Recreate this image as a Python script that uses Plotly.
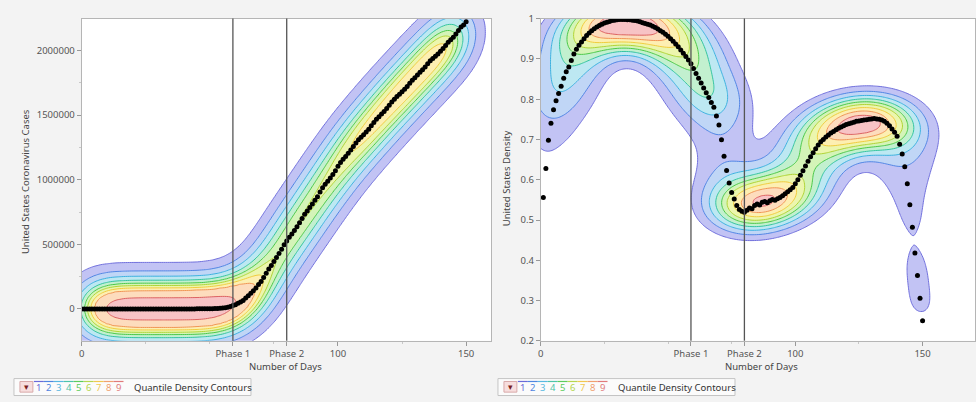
import numpy as np
import plotly.graph_objects as go

# ---------------- data ----------------
days_cases = list(range(0, 151))
us_cases = [
    1, 1, 2, 2, 5, 5, 5, 6, 6, 8,
    8, 8, 11, 11, 11, 12, 12, 12, 12, 12,
    13, 13, 14, 14, 14, 14, 14, 14, 14, 14,
    16, 16, 16, 16, 16, 16, 17, 25, 32, 75,
    100, 124, 158, 221, 319, 435, 541, 704, 994, 1301,
    1697, 2247, 2943, 3680, 4663, 6411, 9197, 13779, 19367, 25578,
    33276, 43843, 53736, 65778, 83836, 101657, 121465, 140909, 161831, 188172,
    213242, 243622, 275367, 308650, 336802, 366317, 397121, 428654, 462780, 496535,
    526396, 555313, 580619, 607670, 636350, 667592, 699706, 732197, 758809, 784326,
    811865, 840351, 869170, 905358, 938154, 965785, 988197, 1012582, 1039909, 1069424,
    1103461, 1132539, 1158040, 1180375, 1204351, 1229331, 1257023, 1283929, 1309550, 1329260,
    1347881, 1369376, 1390406, 1417774, 1442824, 1467820, 1486757, 1508308, 1528568, 1551853,
    1577147, 1600937, 1622612, 1643246, 1662302, 1681212, 1699933, 1721750, 1746019, 1770384,
    1790191, 1811277, 1831821, 1851520, 1872660, 1897838, 1920061, 1938823, 1956421, 1973797,
    1994283, 2016027, 2039750, 2064030, 2083223, 2103685, 2128085, 2154024, 2181381, 2198000,
    2222000,
]

days_density = list(range(1, 151))
us_density = [
    0.556, 0.628, 0.698, 0.740, 0.774, 0.796, 0.814, 0.832, 0.852, 0.868,
    0.880, 0.896, 0.912, 0.924, 0.934, 0.942, 0.950, 0.958, 0.964, 0.970,
    0.975, 0.979, 0.983, 0.986, 0.989, 0.991, 0.993, 0.995, 0.996, 0.997,
    0.998, 0.998, 0.998, 0.997, 0.997, 0.996, 0.995, 0.994, 0.992, 0.990,
    0.988, 0.986, 0.984, 0.981, 0.978, 0.974, 0.970, 0.966, 0.961, 0.956,
    0.950, 0.944, 0.937, 0.930, 0.922, 0.914, 0.906, 0.897, 0.888, 0.876,
    0.864, 0.852, 0.840, 0.828, 0.816, 0.804, 0.792, 0.780, 0.758, 0.736,
    0.699, 0.658, 0.623, 0.592, 0.568, 0.552, 0.536, 0.526, 0.522, 0.519,
    0.524, 0.530, 0.528, 0.536, 0.540, 0.537, 0.544, 0.546, 0.543, 0.548,
    0.551, 0.549, 0.553, 0.556, 0.560, 0.565, 0.570, 0.575, 0.581, 0.590,
    0.600, 0.611, 0.622, 0.634, 0.646, 0.657, 0.667, 0.677, 0.686, 0.694,
    0.700, 0.706, 0.711, 0.716, 0.720, 0.724, 0.728, 0.731, 0.734, 0.737,
    0.739, 0.741, 0.743, 0.745, 0.746, 0.747, 0.748, 0.749, 0.750, 0.751,
    0.752, 0.751, 0.750, 0.748, 0.745, 0.740, 0.734, 0.726, 0.718, 0.708,
    0.688, 0.664, 0.632, 0.590, 0.538, 0.482, 0.418, 0.362, 0.306, 0.250,
]

phase_days = [59, 80]
x_tick_vals = [0, 59, 80, 100, 150]
x_tick_text = ["0", "Phase 1", "Phase 2", "100", "150"]
cases_tick_vals = [0, 500000, 1000000, 1500000, 2000000]
cases_tick_text = ["0", "500000", "1000000", "1500000", "2000000"]
dens_tick_vals = [0.2, 0.3, 0.4, 0.5, 0.6, 0.7, 0.8, 0.9, 1.0]
dens_tick_text = ["0.2", "0.3", "0.4", "0.5", "0.6", "0.7", "0.8", "0.9", "1"]
quantiles = [0.1, 0.2, 0.3, 0.4, 0.5, 0.6, 0.7, 0.8, 0.9]

fill_colors = ["rgba(255,255,255,0)", "#c2c3f4", "#c0d6f6", "#bde8f2", "#c2f0cf",
               "#d4f4b8", "#ecf6ae", "#fdefb2", "#fddcbd", "#f7c3c5"]
line_colors = ["#7170dc", "#5286e4", "#3db2df", "#35c4a0", "#4cc84a",
               "#b0d436", "#f0cc3e", "#f09556", "#dc6262"]

W, H = 976, 402
BG = "#f3f3f3"
FONT = "Noto Sans"


def density_layers(x, y, cx, cy, xr, yr, n=260):
    x = np.asarray(x, float)
    y = np.asarray(y, float)
    hx = cx * x.std()
    hy = cy * y.std()
    xg = np.linspace(min(x.min() - 4 * hx, xr[0]), max(x.max() + 4 * hx, xr[1]), n)
    yg = np.linspace(min(y.min() - 4 * hy, yr[0]), max(y.max() + 4 * hy, yr[1]), n)
    kx = np.exp(-0.5 * ((xg[:, None] - x[None, :]) / hx) ** 2)
    ky = np.exp(-0.5 * ((yg[:, None] - y[None, :]) / hy) ** 2)
    Z = ky @ kx.T
    s = np.sort(Z.ravel())
    c = np.cumsum(s)
    c /= c[-1]
    levels = [s[np.searchsorted(c, q)] for q in quantiles]
    xp = [0.0] + levels + [Z.max() * 1.001 + 1e-12]
    Zt = np.interp(Z, xp, np.arange(len(xp)))
    return xg, yg, Zt


fill_scale = [[i / 9, c] for i, c in enumerate(fill_colors)]
line_scale = [[i / 8, c] for i, c in enumerate(line_colors)]

left_xr = [0, 159.7]
left_yr = [-247000, 2247000]
right_xr = [0, 170.6]
right_yr = [0.2, 1.0]

fig = go.Figure()


def add_panel(xv, yv, xa, ya, xr, yr, cx, cy):
    xg, yg, Zt = density_layers(xv, yv, cx, cy, xr, yr)
    fig.add_trace(go.Contour(
        x=xg, y=yg, z=Zt, autocontour=False,
        contours=dict(start=1, end=9, size=1, coloring="fill", showlines=False),
        colorscale=fill_scale, showscale=False, hoverinfo="skip",
        line=dict(width=0), xaxis=xa, yaxis=ya))
    fig.add_trace(go.Contour(
        x=xg, y=yg, z=Zt, autocontour=False,
        contours=dict(start=1, end=9, size=1, coloring="lines"),
        colorscale=line_scale, showscale=False, hoverinfo="skip",
        line=dict(width=1), xaxis=xa, yaxis=ya))
    fig.add_trace(go.Scatter(
        x=xv, y=yv, mode="markers", xaxis=xa, yaxis=ya,
        marker=dict(color="black", size=5), hoverinfo="skip"))


add_panel(days_cases, us_cases, "x", "y", left_xr, left_yr, 0.18, 0.25)
add_panel(days_density, us_density, "x2", "y2", right_xr, right_yr, 0.23, 0.23)

y_bot = (H - 345) / H
y_top = (H - 12) / H

tickfont = dict(family=FONT, size=9.5, color="#555")
common_x = dict(
    tickmode="array", tickvals=x_tick_vals, ticktext=x_tick_text,
    ticks="outside", ticklen=4, tickcolor="#999", showline=True, linecolor="#b5b5b5",
    mirror=True, showgrid=False, zeroline=False, tickfont=tickfont,
    minor=dict(ticks="outside", ticklen=2, tickcolor="#c8c8c8", tickmode="linear", tick0=0, dtick=25),
)
common_y = dict(
    tickmode="array", ticks="outside", ticklen=4, tickcolor="#999", showline=True,
    linecolor="#b5b5b5", mirror=True, showgrid=False, zeroline=False, tickfont=tickfont,
)

fig.update_layout(
    width=W, height=H, margin=dict(l=0, r=0, t=0, b=0),
    paper_bgcolor=BG, plot_bgcolor="white", showlegend=False,
    xaxis=dict(domain=[79 / W, 490 / W], range=left_xr, anchor="y", **common_x),
    yaxis=dict(domain=[y_bot, y_top], range=left_yr, anchor="x",
               tickvals=cases_tick_vals, ticktext=cases_tick_text,
               minor=dict(ticks="outside", ticklen=2, tickcolor="#c8c8c8", tickmode="linear", tick0=0, dtick=250000),
               **common_y),
    xaxis2=dict(domain=[540 / W, 1.0], range=right_xr, anchor="y2", **common_x),
    yaxis2=dict(domain=[y_bot, y_top], range=right_yr, anchor="x2",
                tickvals=dens_tick_vals, ticktext=dens_tick_text, **common_y),
)

# phase lines
for xa, ya in (("x", "y"), ("x2", "y2")):
    for d in phase_days:
        fig.add_shape(type="line", xref=xa, yref=ya + " domain", x0=d, x1=d, y0=0, y1=1,
                      line=dict(color="#555", width=1.3), layer="above")

# axis titles
title_font = dict(family=FONT, size=9.5, color="#444")
anns = [
    dict(x=22 / W, y=(H - 180) / H, text="United States Coronavirus Cases", textangle=-90),
    dict(x=505 / W, y=(H - 177) / H, text="United States Density", textangle=-90),
    dict(x=284 / W, y=(H - 371) / H, text="Number of Days"),
    dict(x=762 / W, y=(H - 371) / H, text="Number of Days"),
]
for a in anns:
    fig.add_annotation(xref="paper", yref="paper", showarrow=False, font=title_font,
                       xanchor="center", yanchor="middle", **a)

# legend boxes
digit_colors = ["#6a6ad8", "#4f86e0", "#58b8e0", "#4cc4a8", "#5ccc5c",
                "#b4d650", "#f0c850", "#f0a070", "#e07a7a"]
for x0 in (11, 497):
    fig.add_shape(type="rect", xref="paper", yref="paper",
                  x0=x0 / W, x1=(x0 + 238) / W, y0=(H - 401.5) / H, y1=(H - 384) / H,
                  line=dict(color="#c4c4c4", width=1), fillcolor="#fbfbfb", layer="above")
    fig.add_shape(type="rect", xref="paper", yref="paper",
                  x0=(x0 + 6) / W, x1=(x0 + 19) / W, y0=(H - 398) / H, y1=(H - 387) / H,
                  line=dict(color="#d9a9a9", width=1), fillcolor="#f7dede", layer="above")
    fig.add_annotation(xref="paper", yref="paper", x=(x0 + 12.5) / W, y=(H - 392.5) / H,
                       text="▾", showarrow=False, font=dict(family=FONT, size=9, color="#7a1f1f"),
                       xanchor="center", yanchor="middle")
    for k, col in enumerate(digit_colors):
        xc = x0 + 25 + k * 10
        fig.add_shape(type="line", xref="paper", yref="paper",
                      x0=(xc - 5) / W, x1=(xc + 5) / W, y0=(H - 387) / H, y1=(H - 387) / H,
                      line=dict(color=col, width=1.2), layer="above")
        fig.add_annotation(xref="paper", yref="paper", x=xc / W, y=(H - 393.5) / H,
                           text=str(k + 1), showarrow=False,
                           font=dict(family=FONT, size=9.5, color=col),
                           xanchor="center", yanchor="middle")
    fig.add_annotation(xref="paper", yref="paper", x=(x0 + 119) / W, y=(H - 393) / H,
                       text="Quantile Density Contours", showarrow=False,
                       font=dict(family=FONT, size=9.5, color="#333"),
                       xanchor="left", yanchor="middle")

fig.write_html("out.html")
